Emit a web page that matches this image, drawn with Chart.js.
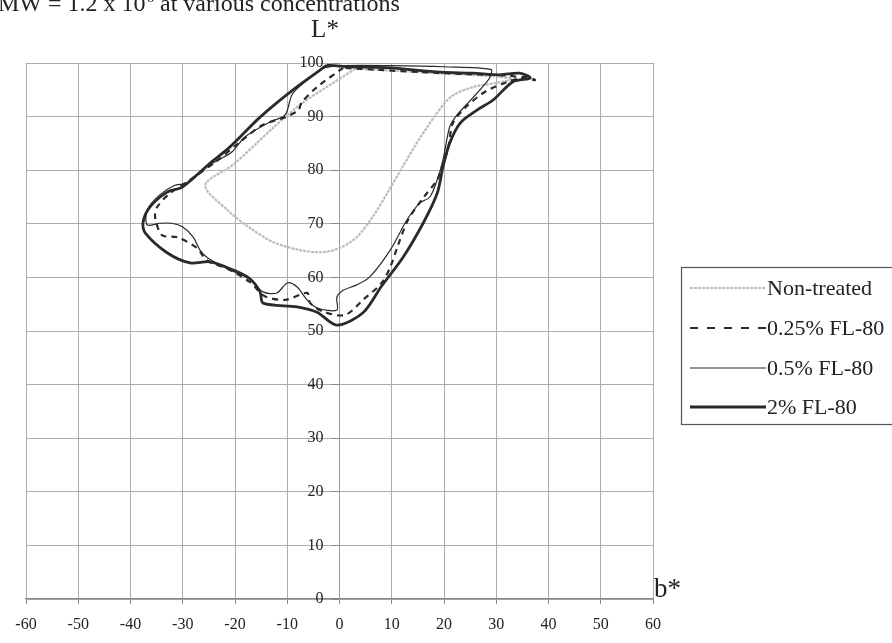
<!DOCTYPE html>
<html>
<head>
<meta charset="utf-8">
<script src="https://cdn.jsdelivr.net/npm/chart.js@4/dist/chart.umd.min.js"></script>
<style>
  html, body { margin: 0; padding: 0; background: #ffffff; }
  #wrap { width: 892px; height: 643px; position: relative; }
</style>
</head>
<body>
<div id="wrap"><canvas id="c" width="892" height="643"></canvas></div>
<script>
// ---- Data (b*, L*) ----
const seriesLabels = ["Non-treated", "0.25% FL-80", "0.5% FL-80", "2% FL-80"];

const nonTreatedB = [3, -2.5, -7.6, -12.7, -20.4, -25.7, -21.5, -17.1, -12.7, -7.6, -3.2, 0.1, 3.3, 6.5, 9, 12, 16, 21.1, 25.5, 30.1, 33, 30, 20, 10, 3];
const nonTreatedL = [98.9, 95.5, 92.2, 87.9, 81.0, 77.2, 72.6, 69.2, 66.6, 65.1, 64.7, 65.5, 67.5, 71.5, 75.5, 80.5, 86.9, 93.5, 95.5, 96.3, 97.0, 97.5, 98.0, 98.6, 98.9];

const fl025B = [0.7, -4.3, -7.2, -7.9, -10.4, -14.8, -19.0, -23.8, -28.6, -32.8, -34.9, -35.3, -34.0, -31.1, -27.3, -25.4, -21.0, -17.1, -14.3, -10.4, -6.2, -5.6, -2.8, 1.1, 4.5, 8.1, 9.7, 11.2, 13.1, 16.0, 18.7, 19.6, 20.8, 21.7, 24.0, 27.8, 31.7, 35.5, 37.4, 32.6, 25.0, 15.4, 7.7, 0.7];
const fl025L = [99.1, 95.5, 92.7, 91.2, 89.9, 88.4, 85.3, 81.5, 78.2, 75.4, 73.1, 71.3, 67.9, 67.5, 65.5, 63.2, 61.4, 59.1, 56.5, 55.8, 57.1, 55.2, 53.5, 53.0, 55.8, 59.0, 61.9, 66.0, 70.7, 74.8, 78.2, 80.6, 84.1, 88.8, 91.6, 94.6, 96.3, 97.4, 96.8, 97.6, 97.9, 98.3, 98.7, 99.1];

const fl05B = [-3.2, -8.9, -10.4, -13.3, -18.1, -20.6, -24.8, -29.2, -31.5, -34.4, -36.8, -36.8, -34.4, -32.1, -30.0, -28.0, -26.7, -25.2, -21.0, -17.7, -14.6, -12.0, -9.9, -8.1, -6.2, -4.3, -0.5, -0.5, 0.7, 3.3, 5.8, 9.7, 12.9, 15.4, 17.3, 18.7, 19.8, 21.1, 22.5, 25.5, 28.2, 28.8, 29, 20, 10, 0, -3.2];
const fl05L = [99.1, 94.4, 90.3, 89.0, 86.2, 83.4, 81.0, 77.6, 77.2, 75.4, 72.6, 69.8, 70.1, 70.1, 69.4, 67.5, 65.1, 63.6, 61.4, 60.1, 57.3, 57.1, 59.0, 58.2, 55.8, 54.3, 53.9, 56.3, 57.6, 58.6, 60.1, 65.1, 70.7, 73.9, 75.0, 78.2, 81.9, 88.1, 90.3, 93.5, 96.5, 97.4, 98.8, 99.3, 99.5, 99.5, 99.1];

const fl2B = [-2.4, -8.9, -15.2, -21.0, -24.8, -30.0, -33.0, -36.3, -37.6, -37.2, -33.0, -28.6, -24.8, -20.4, -17.1, -15.2, -14.6, -8.1, -4.3, -0.5, 4.5, 8.0, 12.2, 16.0, 18.7, 19.8, 21.1, 23.1, 26.3, 29.4, 33.2, 36.5, 34.5, 30.7, 25.5, 19.2, 9.7, 2.0, -2.4];
const fl2L = [99.6, 95.0, 89.9, 84.3, 81.3, 76.9, 75.9, 73.1, 70.3, 68.3, 64.6, 62.7, 62.9, 61.4, 59.7, 57.3, 55.2, 54.5, 53.5, 51.1, 53.4, 58.3, 63.8, 70.1, 75.7, 80.6, 85.1, 88.8, 91.2, 93.1, 96.5, 97.2, 98.1, 97.8, 98.1, 98.3, 99.1, 99.3, 99.6];

const xTicks = [-60, -50, -40, -30, -20, -10, 0, 10, 20, 30, 40, 50, 60];
const yTicks = [0, 10, 20, 30, 40, 50, 60, 70, 80, 90, 100];

const titleText = "MW = 1.2 x 10";
const titleSup = "6";
const titleRest = " at various concentrations";
const yTitle = "L*";
const xTitle = "b*";

function pts(bs, ls) { return bs.map((b, i) => ({ x: b, y: ls[i] })); }

const SERIF = "'Liberation Serif', 'Times New Roman', serif";

const styles = [
  { color: '#bcbcbc', width: 2.2, dash: [3, 1] },
  { color: '#2a2a2a', width: 2.2, dash: [6, 5] },
  { color: '#2a2a2a', width: 1.2, dash: [] },
  { color: '#2a2a2a', width: 2.8, dash: [] }
];

const allData = [pts(nonTreatedB, nonTreatedL), pts(fl025B, fl025L), pts(fl05B, fl05L), pts(fl2B, fl2L)];

const datasets = allData.map((d, i) => ({
  label: seriesLabels[i],
  data: d,
  showLine: true,
  borderColor: styles[i].color,
  borderWidth: styles[i].width,
  borderDash: styles[i].dash,
  pointRadius: 0,
  tension: 0.3,
  fill: false,
  order: 4 - i
}));

const decor = {
  id: 'decor',
  afterDraw(chart) {
    const ctx = chart.ctx;
    ctx.save();
    // Title (partially cut at top)
    ctx.fillStyle = '#222';
    ctx.textBaseline = 'alphabetic';
    ctx.textAlign = 'left';
    ctx.font = '24px ' + SERIF;
    let x = -2;
    const base = 11;
    ctx.fillText(titleText, x, base);
    x += ctx.measureText(titleText).width;
    ctx.font = '15px ' + SERIF;
    ctx.fillText(titleSup, x + 1, base - 9);
    x += ctx.measureText(titleSup).width + 1;
    ctx.font = '24px ' + SERIF;
    ctx.fillText(titleRest, x, base);

    // Axis titles
    ctx.font = '25px ' + SERIF;
    ctx.textAlign = 'center';
    ctx.fillText(yTitle, 325, 37);
    ctx.font = '27px ' + SERIF;
    ctx.textAlign = 'left';
    ctx.fillText(xTitle, 654, 597);

    // Legend
    const bx = 681, by = 267, bw = 220, bh = 157;
    ctx.strokeStyle = '#555';
    ctx.lineWidth = 1.2;
    ctx.setLineDash([]);
    ctx.strokeRect(bx + 0.5, by + 0.5, bw, bh);
    const ys = [288, 328, 368, 407];
    chart.data.datasets.forEach((ds, i) => {
      const yy = ys[i];
      ctx.beginPath();
      ctx.strokeStyle = ds.borderColor;
      ctx.lineWidth = ds.borderWidth;
      ctx.setLineDash(i === 1 ? [8, 9] : ds.borderDash);
      ctx.moveTo(690, yy);
      ctx.lineTo(766, yy);
      ctx.stroke();
      ctx.setLineDash([]);
      ctx.fillStyle = '#222';
      ctx.font = '22px ' + SERIF;
      ctx.textBaseline = 'middle';
      ctx.textAlign = 'left';
      ctx.fillText(ds.label, 767, yy + 1);
    });
    ctx.restore();
  }
};

new Chart(document.getElementById('c'), {
  type: 'scatter',
  data: { datasets },
  options: {
    responsive: false,
    animation: false,
    devicePixelRatio: 1,
    layout: { padding: { left: 26, right: 239, top: 63, bottom: 0 } },
    plugins: { legend: { display: false }, tooltip: { enabled: false }, title: { display: false } },
    scales: {
      x: {
        type: 'linear',
        position: 'bottom',
        min: -60, max: 60,
        afterBuildTicks(scale) { scale.ticks = xTicks.map(v => ({ value: v })); },
        afterFit(scale) { scale.height = 44; },
        ticks: { color: '#222', font: { family: SERIF, size: 16 }, padding: 11, maxRotation: 0, autoSkip: false },
        grid: { color: '#adadad', lineWidth: 1, tickLength: 5, tickColor: '#888' },
        border: { color: '#888', width: 1.2 }
      },
      y: {
        type: 'linear',
        position: { x: 0 },
        min: 0, max: 100,
        afterBuildTicks(scale) { scale.ticks = yTicks.map(v => ({ value: v })); },
        ticks: {
          color: '#222', font: { family: SERIF, size: 16 }, padding: 15, autoSkip: false,
          callback: (v) => String(v) + '\u00a0\u00a0\u00a0\u00a0'
        },
        grid: { color: '#adadad', lineWidth: 1, tickLength: 8, tickColor: '#888' },
        border: { color: '#999', width: 1 }
      }
    }
  },
  plugins: [decor]
});
</script>
</body>
</html>
